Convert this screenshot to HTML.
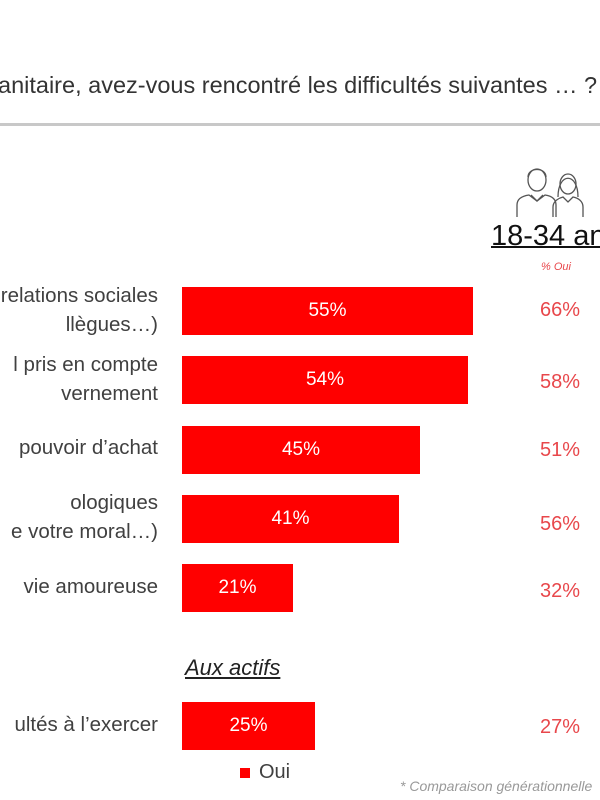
<!DOCTYPE html>
<html><head><meta charset="utf-8"><style>
body{margin:0;width:600px;height:800px;background:#fff;position:relative;overflow:hidden;font-family:"Liberation Sans",sans-serif;color:#404040}
.a{position:absolute;white-space:nowrap}
.bar{position:absolute;left:182px;height:48px;background:#ff0000;color:#fff;font-size:19px;display:flex;align-items:center;justify-content:center}
.lab{position:absolute;right:442px;text-align:right;font-size:20.5px;line-height:29px;white-space:nowrap;color:#404040}
.v{position:absolute;left:540px;font-size:20px;color:#e8474b}
</style></head><body>
<div class="a" style="left:-2px;top:72px;font-size:23.5px;color:#333">anitaire, avez-vous rencontré les difficultés suivantes … ?</div>
<div class="a" style="left:0;top:123px;width:600px;height:3px;background:#c8c8c8"></div>
<svg class="a" style="left:515px;top:163px" width="75" height="58" viewBox="0 0 75 58" fill="none" stroke="#555" stroke-width="1.3">
<ellipse cx="22" cy="17" rx="9" ry="11"/><path d="M13 14c0-10 18-10 18 0"/>
<path d="M2 54v-12c0-6 5-9 12-10l8 6 8-6c7 1 11 4 11 10v12"/><path d="M16 32l6 6 6-6"/>
<ellipse cx="53" cy="21" rx="8" ry="10"/><path d="M43 34c0-25 20-25 20 0"/>
<path d="M38 54v-10c0-6 6-9 10-10l5 5 5-5c5 1 10 4 10 10v10"/>
</svg>
<div class="a" style="left:491px;top:220px;font-size:29px;color:#111;text-decoration:underline;text-decoration-thickness:2px">18-34 ans</div>
<div class="a" style="left:541px;top:261px;font-size:11px;font-style:italic;color:#e8474b">% Oui</div>

<div class="lab" style="top:281px">relations sociales<br>llègues…)</div>
<div class="bar" style="top:287px;width:291px">55%</div><div class="v" style="top:299px">66%</div>
<div class="lab" style="top:350px">l pris en compte<br>vernement</div>
<div class="bar" style="top:356px;width:286px">54%</div><div class="v" style="top:371px">58%</div>
<div class="lab" style="top:433px">pouvoir d’achat</div>
<div class="bar" style="top:426px;width:238px">45%</div><div class="v" style="top:439px">51%</div>
<div class="lab" style="top:488px">ologiques<br>e votre moral…)</div>
<div class="bar" style="top:495px;width:217px">41%</div><div class="v" style="top:513px">56%</div>
<div class="lab" style="top:572px">vie amoureuse</div>
<div class="bar" style="top:564px;width:111px">21%</div><div class="v" style="top:580px">32%</div>
<div class="a" style="left:185px;top:655px;font-size:22px;font-style:italic;text-decoration:underline;color:#222">Aux actifs</div>
<div class="lab" style="top:710px">ultés à l’exercer</div>
<div class="bar" style="top:702px;width:133px">25%</div><div class="v" style="top:716px">27%</div>
<div class="a" style="left:240px;top:768px;width:10px;height:10px;background:#ff0000"></div>
<div class="a" style="left:259px;top:761px;font-size:20px">Oui</div>
<div class="a" style="left:400px;top:778px;font-size:14px;font-style:italic;color:#999">* Comparaison générationnelle</div>
</body></html>
